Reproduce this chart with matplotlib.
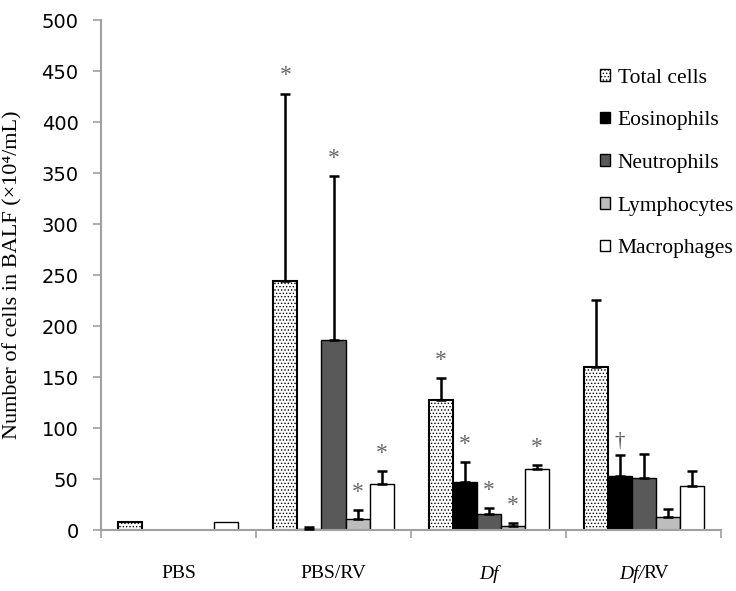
import numpy as np
import matplotlib.pyplot as plt
from matplotlib.patches import Patch

groups = ['PBS', 'PBS/RV', 'Df', 'Df/RV']
series = ['Total cells', 'Eosinophils', 'Neutrophils', 'Lymphocytes', 'Macrophages']

# rows = series, cols = groups
means = [
    [8, 244, 128, 160],
    [0, 1, 47, 53],
    [0, 186, 16, 51],
    [0, 11, 4.5, 13],
    [8, 45, 59.5, 43],
]
errs = [
    [0, 184, 21, 66],
    [0, 2, 20, 21],
    [0, 161, 6, 24],
    [0, 9, 2.5, 7.5],
    [0, 13, 4.5, 15],
]

# significance marks: (series index, group index, symbol)
marks = [
    (0, 1, '*'), (2, 1, '*'), (3, 1, '*'), (4, 1, '*'),
    (0, 2, '*'), (1, 2, '*'), (2, 2, '*'), (3, 2, '*'), (4, 2, '*'),
    (1, 3, '\u2020'),
]

colors = ['white', 'black', '#595959', '#bdbdbd', 'white']
hatches = ['.....', None, None, None, None]

plt.rcParams['hatch.linewidth'] = 0.6
serif = ['Liberation Serif', 'DejaVu Serif']

fig = plt.figure(figsize=(7.36, 5.91), dpi=100)
ax = fig.add_axes([0.137, 0.103, 0.843, 0.863])

w = 0.155
x = np.arange(len(groups))
for j, name in enumerate(series):
    pos = x + (j - 2) * w
    ax.bar(pos, means[j], width=w, color=colors[j], edgecolor='black',
           linewidth=1.5 if j == 0 else 1.0, hatch=hatches[j], zorder=2)
    err = np.array(errs[j])
    show = err > 0
    ax.errorbar(pos[show], np.array(means[j])[show],
                yerr=[np.zeros(show.sum()), err[show]],
                fmt='none', ecolor='black', elinewidth=1.8, capsize=3.5,
                capthick=1.8, zorder=3)

for j, g, sym in marks:
    xp = x[g] + (j - 2) * w
    top = means[j][g] + errs[j][g]
    if sym == '*':
        ax.text(xp, top + 7, sym, ha='center', va='bottom', fontsize=17,
                color='#666666', family=serif)
    else:
        ax.text(xp, top + 4, sym, ha='center', va='bottom', fontsize=15,
                color='#555555', family=serif)

ax.set_ylim(0, 500)
ax.set_xlim(-0.5, len(groups) - 0.5)
ax.set_yticks(np.arange(0, 501, 50))
ax.tick_params(axis='y', labelsize=14, length=6, pad=10, color='#a0a0a0', width=1.2)

ax.set_xticks(x)
ax.set_xticks(np.arange(-0.5, len(groups)), minor=True)
ax.tick_params(axis='x', which='major', length=0)
ax.tick_params(axis='x', which='minor', length=6, color='#a0a0a0', width=1.2)
ax.set_xticklabels([])
lab_y = -0.086
fs = 14
tr = ax.get_xaxis_transform()
ax.text(0, lab_y, 'PBS', transform=tr, ha='center', va='center',
        fontsize=fs, family=serif)
ax.text(1, lab_y, 'PBS/RV', transform=tr, ha='center', va='center',
        fontsize=fs, family=serif)
ax.text(2, lab_y, 'Df', transform=tr, ha='center', va='center',
        fontsize=fs, family=serif, style='italic')
ax.text(3, lab_y, 'RV', transform=tr, ha='left', va='center',
        fontsize=fs, family=serif)
ax.text(3, lab_y, 'Df/', transform=tr, ha='right', va='center',
        fontsize=fs, family=serif, style='italic')

for s in ['top', 'right']:
    ax.spines[s].set_visible(False)
for s in ['left', 'bottom']:
    ax.spines[s].set_color('#a0a0a0')
    ax.spines[s].set_linewidth(1.5)

ax.set_ylabel('Number of cells in BALF (\u00d710\u2074/mL)', fontsize=16,
              family=serif, labelpad=14)

handles = [Patch(facecolor=colors[j], edgecolor='black', hatch=hatches[j],
                 linewidth=1.0) for j in range(len(series))]
ax.legend(handles, series, loc='upper left', bbox_to_anchor=(0.805, 0.905),
          frameon=False, prop={'family': serif, 'size': 15.5},
          handlelength=0.45, handleheight=0.45, handletextpad=0.35,
          labelspacing=1.1, borderaxespad=0, borderpad=0)

fig.savefig('out.png', dpi=100)
